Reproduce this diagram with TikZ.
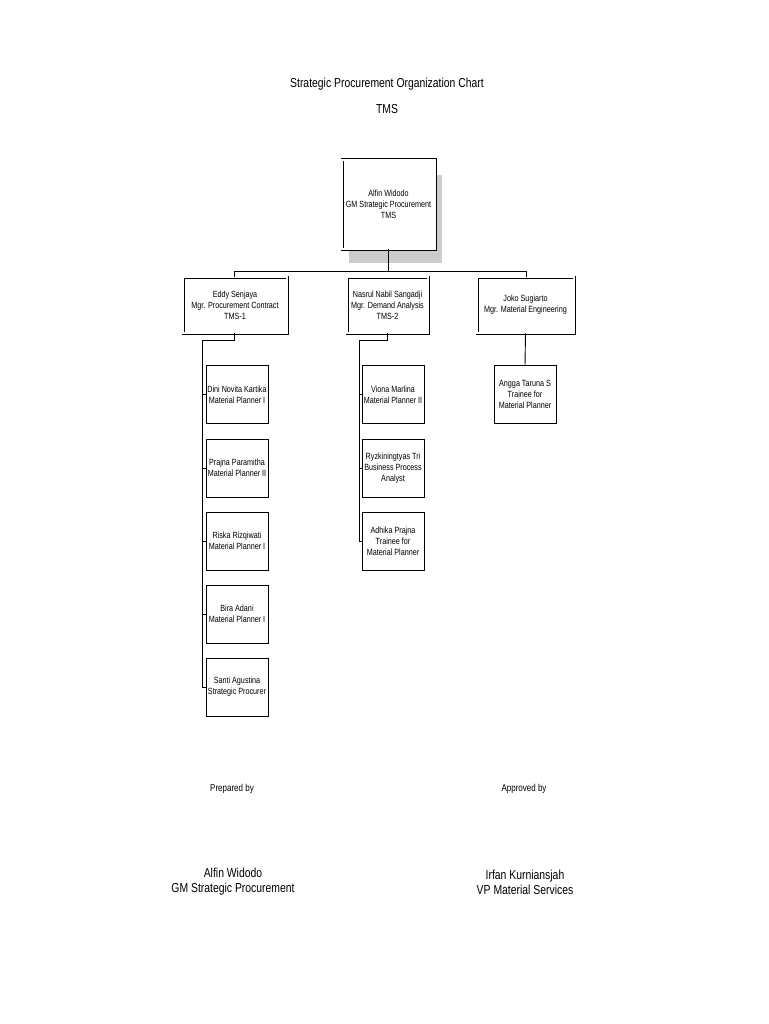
\documentclass[tikz,border=0pt]{standalone}
\usepackage{fontspec}
\setmainfont{Liberation Sans}[FakeStretch=0.8]
\begin{document}
\begin{tikzpicture}[x=1pt,y=-1pt,
  dbl/.style={draw,double=white,double distance=1.6pt,line width=0.7pt,inner sep=0pt,align=center,font=\fontsize{9}{11}\selectfont},
  leaf/.style={draw,line width=0.8pt,inner sep=0pt,align=center,font=\fontsize{9}{11}\selectfont,minimum width=62pt,minimum height=58pt},
  ln/.style={line width=0.9pt},
  big/.style={font=\fontsize{13}{15}\selectfont},
  small/.style={font=\fontsize{10}{12}\selectfont}]
\useasboundingbox (0,0) rectangle (768,1024);
\fill[white] (0,0) rectangle (768,1024);
\node[big] (t1) at (387,84) {Strategic Procurement Organization Chart};
\node[big] (t2) at (387,109) {TMS};
\fill[black!20] (349,175) rectangle (442,263);
\node[dbl,fill=white,minimum width=93pt,minimum height=89pt] (gm) at (388.5,204.5) {Alfin Widodo\\GM Strategic Procurement\\TMS};
\node[dbl,minimum width=104pt,minimum height=56pt] (m1) at (235,305) {Eddy Senjaya\\Mgr. Procurement Contract\\TMS-1};
\node[dbl,minimum width=81pt,minimum height=56pt] (m2) at (387.5,305) {Nasrul Nabil Sangadji\\Mgr. Demand Analysis\\TMS-2};
\node[dbl,minimum width=97pt,minimum height=56pt] (m3) at (525.5,305) {Joko Sugiarto\\Mgr. Material Engineering};
\coordinate (hl) at (234,271);
\coordinate (hr) at (526,271);
\draw[ln] (gm.south) -- (388.5,271);
\draw[ln] (hl) -- (hr);
\draw[ln] (hl) -- (m1.north -| hl);
\draw[ln] (hr) -- (m3.north -| hr);
% column 1
\node[leaf] (a1) at (237,394.5) {Dini Novita Kartika\\Material Planner I};
\node[leaf] (a2) at (237,468) {Prajna Paramitha\\Material Planner II};
\node[leaf] (a3) at (237,541) {Riska Rizqiwati\\Material Planner I};
\node[leaf] (a4) at (237,614) {Bira Adani\\Material Planner I};
\node[leaf] (a5) at (237,687) {Santi Agustina\\Strategic Procurer};
\coordinate (c1) at (202,340);
\draw[ln] (m1.south -| hl) -- (234,340) -- (c1) -- (202,687);
\foreach \n in {a1,a2,a3,a4,a5} \draw[ln] (\n.west -| c1) -- (\n.west);
% column 2
\node[leaf] (b1) at (393,394.5) {Viona Marlina\\Material Planner II};
\node[leaf] (b2) at (393,468) {Ryzkiningtyas Tri\\Business Process\\Analyst};
\node[leaf] (b3) at (393,541) {Adhika Prajna\\Trainee for\\Material Planner};
\coordinate (c2) at (359,340);
\draw[ln] (m2.south) -- (387.5,340) -- (c2) -- (359,541);
\foreach \n in {b1,b2,b3} \draw[ln] (\n.west -| c2) -- (\n.west);
% column 3
\node[leaf] (d1) at (525,394.5) {Angga Taruna S\\Trainee for\\Material Planner};
\draw[ln] (m3.south) -- (d1.north);
% signatures
\node[small] (p1) at (232,789) {Prepared by};
\node[small] (p2) at (524,789) {Approved by};
\node[big,align=center] (s1) at (233,882) {Alfin Widodo\\GM Strategic Procurement};
\node[big,align=center] (s2) at (525,882) {Irfan Kurniansjah\\VP Material Services};
\end{tikzpicture}
\end{document}
